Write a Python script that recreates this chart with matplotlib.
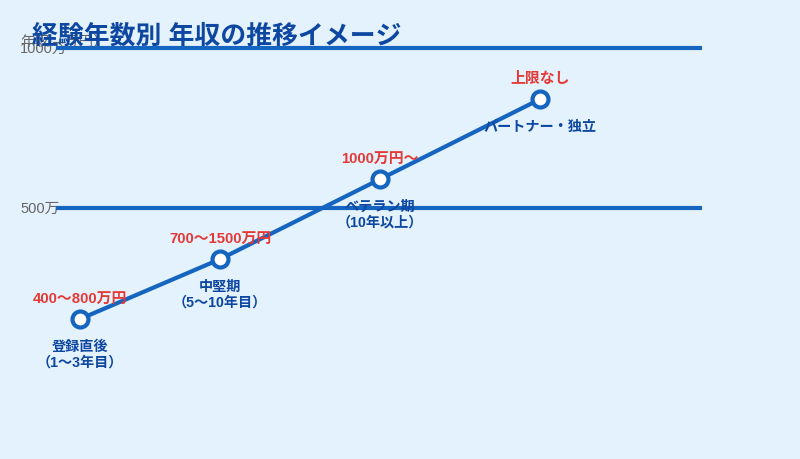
import matplotlib.pyplot as plt

plt.rcParams['font.family'] = ['Liberation Sans', 'Noto Sans CJK JP', 'DejaVu Sans']

# data
stage_x = [80, 220, 380, 540]
salary = [153, 340, 590, 840]
range_labels = ['400〜800万円', '700〜1500万円', '1000万円〜', '上限なし']
stage_labels = ['登録直後\n（1〜3年目）', '中堅期\n（5〜10年目）', 'ベテラン期\n（10年以上）', 'パートナー・独立']
grid_values = [500, 1000]
grid_labels = ['500万', '1000万']

bg = '#e3f2fd'
blue = '#1565c0'
dark = '#0d47a1'
red = '#e53935'

fig = plt.figure(figsize=(8, 4.6), dpi=100, facecolor=bg)
ax = fig.add_axes([0, 0, 1, 1])
ax.set_facecolor(bg)
ax.set_xlim(0, 800)
# pixel y = 369 - value * 0.32
ax.set_ylim(-(460 - 369) / 0.32, 369 / 0.32)
ax.axis('off')

for v, lab in zip(grid_values, grid_labels):
    ax.axhline(v, xmin=58 / 800, xmax=700 / 800, color=blue, lw=3, zorder=1)
    ax.text(20, v, lab, ha='left', va='center', fontsize=10.5, color='#666666', zorder=0)
ax.text(20, 1022, '年収（万円）', ha='left', va='center', fontsize=10.5, color='#666666', zorder=0)

ax.plot(stage_x, salary, color=blue, lw=3, zorder=2,
        marker='o', ms=11.5, mfc='white', mec=blue, mew=3)

for x, y, r, s in zip(stage_x, salary, range_labels, stage_labels):
    ax.annotate(r, (x, y), xytext=(0, 15), textcoords='offset points',
                ha='center', va='center', fontsize=10.7, fontweight='bold', color=red)
    ax.annotate(s, (x, y), xytext=(0, -14), textcoords='offset points',
                ha='center', va='top', fontsize=10.2, fontweight='bold', color=dark,
                linespacing=1.15)

fig.text(32 / 800, 1 - 36 / 460, '経験年数別 年収の推移イメージ', ha='left', va='center',
         fontsize=18.6, fontweight='bold', color=dark)

fig.savefig('out.png', dpi=100, facecolor=bg)
